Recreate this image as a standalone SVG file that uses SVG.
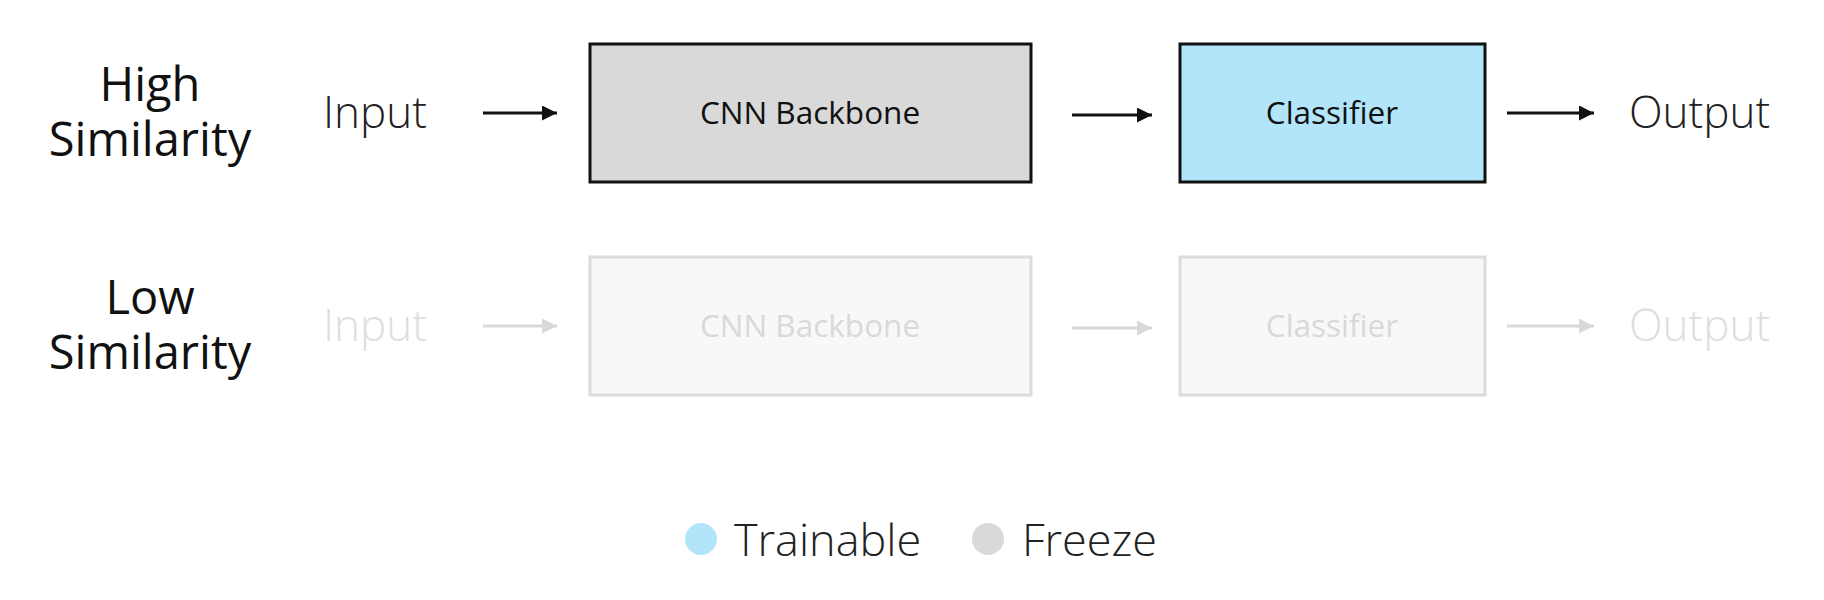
<svg xmlns="http://www.w3.org/2000/svg" width="1824" height="600" viewBox="0 0 1824 600">
  <style>
    .row { font-family: "Open Sans", "Noto Sans", "Liberation Sans", sans-serif; font-size: 47px; font-weight: 500; fill: #111; text-anchor: middle; }
    .io { font-family: "Open Sans", "Noto Sans", "Liberation Sans", sans-serif; font-size: 44px; font-weight: 300; fill: #222; }
    .io.dim { fill: #dedede; }
    .lbl { font-family: "Open Sans", "Noto Sans", "Liberation Sans", sans-serif; font-size: 31.5px; font-weight: 400; fill: #111; text-anchor: middle; }
    .lbl.dim { fill: #d9d9d9; }
    .box { stroke: #111; stroke-width: 3; }
    .box.dim { fill: #f8f8f8; stroke: #dcdcdc; }
    .freeze { fill: #d9d9d9; }
    .train { fill: #b3e5fa; }
    .conn { stroke: #111; stroke-width: 3; fill: none; }
    .conn.dim { stroke: #d9d9d9; }
    .legend { font-family: "Open Sans", "Noto Sans", "Liberation Sans", sans-serif; font-size: 45px; font-weight: 300; fill: #222; }
  </style>
  <defs>
    <marker id="ah" viewBox="0 0 10 10" refX="10" refY="5" markerWidth="5.5" markerHeight="5" markerUnits="strokeWidth" orient="auto">
      <path d="M0,0 L10,5 L0,10 z" fill="#111"/>
    </marker>
    <marker id="ahd" viewBox="0 0 10 10" refX="10" refY="5" markerWidth="5.5" markerHeight="5" markerUnits="strokeWidth" orient="auto">
      <path d="M0,0 L10,5 L0,10 z" fill="#d9d9d9"/>
    </marker>
  </defs>
  <rect width="1824" height="600" fill="#ffffff"/>

  <g id="label-high">
    <text class="row" x="150" y="101">High</text>
    <text class="row" x="150" y="156">Similarity</text>
  </g>
  <g id="label-low">
    <text class="row" x="150" y="314">Low</text>
    <text class="row" x="150" y="369">Similarity</text>
  </g>

  <g id="high-input"><text class="io" x="323" y="128">Input</text></g>
  <g id="high-backbone">
    <rect class="box freeze" x="590" y="44" width="441" height="138"/>
    <text class="lbl" x="810" y="124">CNN Backbone</text>
  </g>
  <g id="high-classifier">
    <rect class="box train" x="1180" y="44" width="305" height="138"/>
    <text class="lbl" x="1332" y="124">Classifier</text>
  </g>
  <g id="high-output"><text class="io" x="1629" y="128">Output</text></g>

  <g id="low-input"><text class="io dim" x="323" y="341">Input</text></g>
  <g id="low-backbone">
    <rect class="box dim" x="590" y="257" width="441" height="138"/>
    <text class="lbl dim" x="810" y="337">CNN Backbone</text>
  </g>
  <g id="low-classifier">
    <rect class="box dim" x="1180" y="257" width="305" height="138"/>
    <text class="lbl dim" x="1332" y="337">Classifier</text>
  </g>
  <g id="low-output"><text class="io dim" x="1629" y="341">Output</text></g>

  <g id="connectors">
    <line class="conn" x1="483" y1="113" x2="557" y2="113" marker-end="url(#ah)"/>
    <line class="conn" x1="1072" y1="115" x2="1152" y2="115" marker-end="url(#ah)"/>
    <line class="conn" x1="1507" y1="113" x2="1594" y2="113" marker-end="url(#ah)"/>
    <line class="conn dim" x1="483" y1="326" x2="557" y2="326" marker-end="url(#ahd)"/>
    <line class="conn dim" x1="1072" y1="328" x2="1152" y2="328" marker-end="url(#ahd)"/>
    <line class="conn dim" x1="1507" y1="326" x2="1594" y2="326" marker-end="url(#ahd)"/>
  </g>

  <g id="legend-trainable">
    <circle class="train" cx="701" cy="539" r="16"/>
    <text class="legend" x="734" y="556">Trainable</text>
  </g>
  <g id="legend-freeze">
    <circle class="freeze" cx="988" cy="539" r="16"/>
    <text class="legend" x="1022" y="556">Freeze</text>
  </g>
</svg>
